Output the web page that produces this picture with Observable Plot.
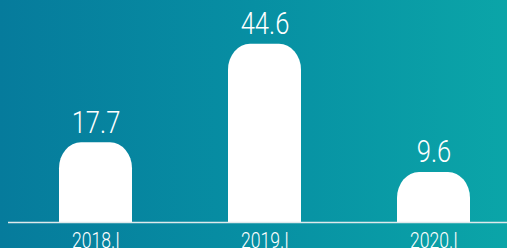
<!DOCTYPE html>
<html>
<head>
<meta charset="utf-8">
<script src="https://cdn.jsdelivr.net/npm/d3@7"></script>
<script src="https://cdn.jsdelivr.net/npm/@observablehq/plot@0.6"></script>
<style>
  html, body { margin: 0; padding: 0; background: #0790a2; overflow: hidden; }
  #chart svg { display: block; }
</style>
</head>
<body>
<div id="chart"></div>
<script>
const periods = ["2018.I", "2019.I", "2020.I"];
const values = [17.7, 44.6, 9.6];

const data = periods.map((p, i) => ({period: p, value: values[i]}));

const yFloor = -4.07;   // value at the baseline
const yTop = 56.56;     // value at the top edge
const yBelow = -20;     // bars extend below the frame and are clipped (square bottoms)

const font = "Roboto, 'Noto Sans', sans-serif";

const chart = Plot.plot({
  width: 507,
  height: 248,
  marginTop: 0,
  marginBottom: 26,
  marginLeft: 8,
  marginRight: 0,
  style: {
    background: "linear-gradient(90deg, #067b9c 0%, #078fa3 50%, #0ba5a8 100%)",
    fontFamily: font,
    color: "white",
    overflow: "hidden"
  },
  x: {domain: periods, paddingInner: 0.57, paddingOuter: 0.253, align: 0.576, axis: null},
  y: {domain: [yFloor, yTop], axis: null},
  marks: [
    Plot.barY(data, {
      x: "period",
      y1: () => yBelow,
      y2: "value",
      fill: "white",
      rx: 22,
      ry: 26,
      clip: true
    }),
    Plot.ruleY([yFloor], {stroke: "#dfe9ec", strokeWidth: 1.5}),
    Plot.text(data, {
      x: "period",
      y: "value",
      text: d => d.value.toFixed(1),
      lineAnchor: "bottom",
      dy: -10,
      fontSize: 32,
      fontWeight: 300,
      fill: "white"
    }),
    Plot.axisX({
      tickSize: 0,
      tickPadding: 10,
      fontSize: 22,
      fontWeight: 300,
      fill: "white",
      label: null
    })
  ]
});

document.getElementById("chart").appendChild(chart);

// condense the text horizontally (narrow light face look)
d3.select(chart).selectAll("text").each(function () {
  const x = parseFloat(this.getAttribute("x")) || 0;
  const t = this.getAttribute("transform") || "";
  this.setAttribute("transform", `${t} translate(${x},0) scale(0.8,1) translate(${-x},0)`);
});
</script>
</body>
</html>
